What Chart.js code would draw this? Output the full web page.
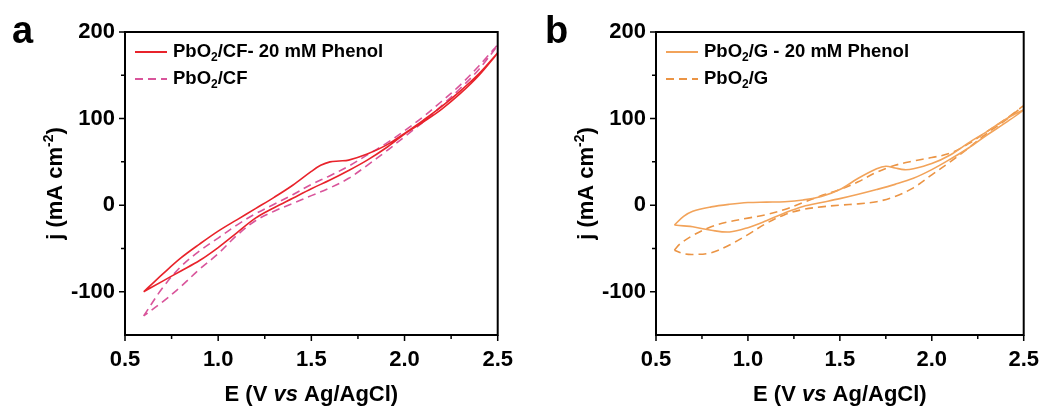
<!DOCTYPE html>
<html>
<head>
<meta charset="utf-8">
<script src="https://cdn.jsdelivr.net/npm/chart.js@4.4.1/dist/chart.umd.min.js"></script>
<style>
  html, body { margin: 0; padding: 0; background: #fff; }
  #wrap { position: relative; width: 1051px; height: 408px; }
  canvas { position: absolute; top: 0; }
  #chartA { left: 0; }
  #chartB { left: 531px; }
</style>
</head>
<body>
<div id="wrap">
  <canvas id="chartA" width="525" height="408"></canvas>
  <canvas id="chartB" width="520" height="408"></canvas>
</div>
<script>
// potential scan (V vs Ag/AgCl), forward then reverse
const cfPhenolE = [0.6, 0.65, 0.7, 0.8, 0.9, 1.0, 1.1, 1.2, 1.3, 1.4, 1.5, 1.55, 1.6, 1.65, 1.7, 1.8, 1.9, 2.0, 2.1, 2.2, 2.3, 2.4, 2.5,
  2.4, 2.3, 2.2, 2.1, 2.0, 1.9, 1.8, 1.7, 1.6, 1.5, 1.4, 1.3, 1.2, 1.1, 1.0, 0.9, 0.8, 0.7, 0.6];
const cfPhenolJ = [-100, -90, -80, -61, -45, -30, -17, -4, 9, 23, 39, 46, 50, 51, 52, 59, 69, 83, 98, 114, 132, 152, 176,
  150, 129, 111, 96, 82, 66, 52, 40, 29, 19, 8, -3, -15, -32, -49, -64, -76, -88, -100];

const cfE = [0.6, 0.7, 0.8, 0.9, 1.0, 1.1, 1.2, 1.3, 1.4, 1.5, 1.6, 1.7, 1.8, 1.9, 2.0, 2.1, 2.2, 2.3, 2.4, 2.5,
  2.4, 2.3, 2.2, 2.1, 2.0, 1.9, 1.8, 1.7, 1.6, 1.5, 1.4, 1.3, 1.2, 1.1, 1.0, 0.9, 0.8, 0.7, 0.6];
const cfJ = [-128, -96, -71, -53, -38, -23, -10, 1, 12, 24, 34, 45, 58, 71, 86, 102, 120, 139, 161, 185,
  157, 135, 115, 96, 79, 62, 46, 31, 20, 11, 2, -7, -18, -35, -56, -74, -94, -112, -128];

const gPhenolE = [0.6, 0.65, 0.7, 0.8, 0.9, 1.0, 1.1, 1.2, 1.3, 1.4, 1.5, 1.6, 1.7, 1.75, 1.8, 1.85, 1.9, 2.0, 2.1, 2.2, 2.3, 2.4, 2.5,
  2.4, 2.3, 2.2, 2.1, 2.0, 1.9, 1.8, 1.7, 1.6, 1.5, 1.4, 1.3, 1.2, 1.1, 1.0, 0.9, 0.8, 0.7, 0.65, 0.6];
const gPhenolJ = [-23, -13, -7, -2, 1, 3, 3.5, 4, 6, 10, 18, 31, 42, 45, 43, 41, 42, 48, 58, 72, 85, 99, 110,
  95, 81, 66, 53, 41, 31, 24, 18, 12.5, 7.5, 3, -1.5, -9, -18, -26, -31, -29, -25, -24, -23];

const gE = [0.6, 0.63, 0.7, 0.8, 0.9, 1.0, 1.1, 1.2, 1.3, 1.4, 1.5, 1.6, 1.7, 1.8, 1.9, 2.0, 2.1, 2.2, 2.3, 2.4, 2.5,
  2.4, 2.3, 2.2, 2.1, 2.0, 1.9, 1.8, 1.7, 1.6, 1.5, 1.4, 1.3, 1.2, 1.1, 1.0, 0.9, 0.8, 0.7, 0.65, 0.6];
const gJ = [-52, -45, -35, -25, -19, -15, -11, -5, 3, 11, 18, 27, 38, 46, 51, 55, 60, 71, 85, 99, 115,
  98, 83, 66, 50, 35, 20, 10, 4, 1.5, 0, -2, -5, -11, -21, -34, -46, -55, -57, -56, -52];

const xTicks = [0.5, 1.0, 1.5, 2.0, 2.5];
const xMinor = [0.75, 1.25, 1.75, 2.25];
const yTicks = [-100, 0, 100, 200];
const yMinor = [-50, 50, 150];

const FONT = '"Liberation Sans", Arial, sans-serif';

function toPoints(xs, ys) {
  return xs.map((x, i) => ({ x: x, y: ys[i] }));
}

// frame, minor ticks, titles, legend and panel letter
const decorPlugin = {
  id: 'decor',
  afterDraw(chart, args, opts) {
    const ctx = chart.ctx;
    const a = chart.chartArea;
    const xs = chart.scales.x, ys = chart.scales.y;
    ctx.save();
    ctx.strokeStyle = '#000';
    ctx.lineWidth = 2;
    ctx.strokeRect(a.left, a.top, a.right - a.left, a.bottom - a.top);

    ctx.lineWidth = 1.5;
    ctx.beginPath();
    xTicks.forEach(v => { const p = xs.getPixelForValue(v); ctx.moveTo(p, a.bottom); ctx.lineTo(p, a.bottom + 6); });
    xMinor.forEach(v => { const p = xs.getPixelForValue(v); ctx.moveTo(p, a.bottom); ctx.lineTo(p, a.bottom + 4); });
    yTicks.forEach(v => { const p = ys.getPixelForValue(v); ctx.moveTo(a.left, p); ctx.lineTo(a.left - 6, p); });
    yMinor.forEach(v => { const p = ys.getPixelForValue(v); ctx.moveTo(a.left, p); ctx.lineTo(a.left - 4, p); });
    ctx.stroke();

    // panel letter
    ctx.fillStyle = '#000';
    ctx.font = 'bold 38px ' + FONT;
    ctx.textBaseline = 'alphabetic';
    ctx.textAlign = 'left';
    ctx.fillText(opts.letter, opts.letterX, 43);

    // x title: E (V vs Ag/AgCl)
    const cx = (a.left + a.right) / 2;
    const ty = 401;
    const parts = [['bold 22px ', 'E (V '], ['italic bold 22px ', 'vs'], ['bold 22px ', ' Ag/AgCl)']];
    let total = 0;
    parts.forEach(p => { ctx.font = p[0] + FONT; total += ctx.measureText(p[1]).width; });
    let px = cx - total / 2;
    parts.forEach(p => { ctx.font = p[0] + FONT; ctx.fillText(p[1], px, ty); px += ctx.measureText(p[1]).width; });

    // y title: j (mA cm-2)
    ctx.save();
    ctx.translate(opts.yTitleX, (a.top + a.bottom) / 2);
    ctx.rotate(-Math.PI / 2);
    ctx.font = 'bold 22px ' + FONT;
    const t1 = 'j (mA cm', t3 = ')';
    const w1 = ctx.measureText(t1).width, w3 = ctx.measureText(t3).width;
    ctx.font = 'bold 14px ' + FONT;
    const w2 = ctx.measureText('-2').width;
    let sx = -(w1 + w2 + w3) / 2;
    ctx.font = 'bold 22px ' + FONT;
    ctx.fillText(t1, sx, 8);
    ctx.font = 'bold 14px ' + FONT;
    ctx.fillText('-2', sx + w1, -1);
    ctx.font = 'bold 22px ' + FONT;
    ctx.fillText(t3, sx + w1 + w2, 8);
    ctx.restore();

    // legend
    chart.data.datasets.forEach((ds, i) => {
      const ly = 52 + i * 27;
      const lx = a.left + 10;
      ctx.strokeStyle = ds.borderColor;
      ctx.lineWidth = 2;
      ctx.setLineDash(ds.borderDash || []);
      ctx.beginPath();
      ctx.moveTo(lx, ly);
      ctx.lineTo(lx + 32, ly);
      ctx.stroke();
      ctx.setLineDash([]);
      ctx.fillStyle = '#000';
      ctx.textBaseline = 'middle';
      let tx = lx + 38;
      ctx.font = 'bold 18.5px ' + FONT;
      ctx.fillText('PbO', tx, ly);
      tx += ctx.measureText('PbO').width;
      ctx.font = 'bold 12px ' + FONT;
      ctx.fillText('2', tx, ly + 6);
      tx += ctx.measureText('2').width;
      ctx.font = 'bold 18.5px ' + FONT;
      ctx.fillText(ds.label.replace('PbO2', ''), tx, ly);
    });
    ctx.restore();
  }
};

function makeChart(id, series, decor, rightPad) {
  return new Chart(document.getElementById(id), {
    type: 'scatter',
    data: {
      datasets: series.map(s => ({
        label: s.label,
        data: toPoints(s.e, s.j),
        showLine: true,
        borderColor: s.color,
        borderWidth: 1.6,
        borderDash: s.dash,
        pointRadius: 0,
        tension: 0.35,
        fill: false
      }))
    },
    options: {
      responsive: false,
      animation: false,
      layout: { padding: { top: 32, right: rightPad, left: 0, bottom: 0 } },
      plugins: {
        legend: { display: false },
        tooltip: { enabled: false },
        decor: decor
      },
      scales: {
        x: {
          type: 'linear',
          min: 0.5,
          max: 2.5,
          grid: { display: false, drawTicks: false },
          border: { display: false },
          afterBuildTicks: s => { s.ticks = xTicks.map(v => ({ value: v })); },
          afterFit: s => { s.height = 73; },
          ticks: {
            padding: 12,
            color: '#000',
            font: { family: FONT, size: 22, weight: 'bold' },
            maxRotation: 0,
            callback: v => v.toFixed(1)
          }
        },
        y: {
          type: 'linear',
          min: -150,
          max: 200,
          grid: { display: false, drawTicks: false },
          border: { display: false },
          afterBuildTicks: s => { s.ticks = yTicks.map(v => ({ value: v })); },
          afterFit: s => { s.width = 125; },
          ticks: {
            padding: 10,
            color: '#000',
            font: { family: FONT, size: 22, weight: 'bold' },
            callback: v => String(v)
          }
        }
      }
    },
    plugins: [decorPlugin]
  });
}

makeChart('chartA', [
  { label: 'PbO2/CF- 20 mM Phenol', e: cfPhenolE, j: cfPhenolJ, color: '#e8232b', dash: [] },
  { label: 'PbO2/CF', e: cfE, j: cfJ, color: '#d9559b', dash: [8, 5] }
], { letter: 'a', letterX: 12, yTitleX: 54 }, 24);

makeChart('chartB', [
  { label: 'PbO2/G - 20 mM Phenol', e: gPhenolE, j: gPhenolJ, color: '#f2a35a', dash: [] },
  { label: 'PbO2/G', e: gE, j: gJ, color: '#eb9444', dash: [8, 5] }
], { letter: 'b', letterX: 14, yTitleX: 54 }, 19);
</script>
</body>
</html>
